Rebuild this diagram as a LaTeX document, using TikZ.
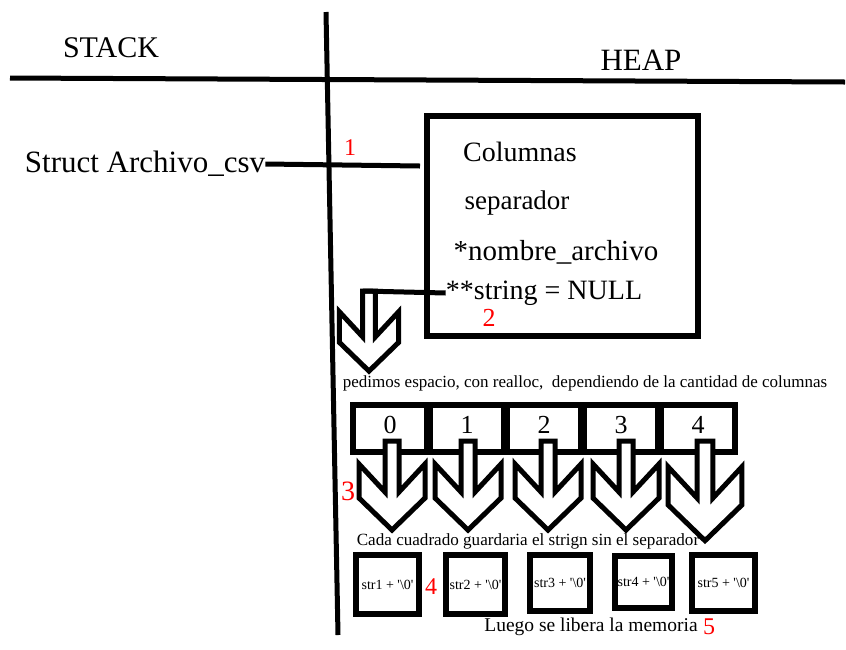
\documentclass[tikz,border=0pt]{standalone}
\usepackage{fontspec}
\setmainfont{Liberation Serif}
\newfontfamily\quotefont{Liberation Serif}
\usetikzlibrary{matrix}
\newcommand{\nul}{'\textbackslash 0'}
\tikzset{
  txt/.style={inner sep=0pt, font=\fontsize{#1}{#1}\selectfont},
  num/.style={txt=#1, text=red},
  wire/.style={line width=5pt},
  strbox/.style={draw, line width=6pt, inner sep=0pt, font=\fontsize{14}{14}\selectfont\quotefont},
  hollowarr/.pic={\draw[line width=5pt, fill=white] (-7,0) -- (7,0) -- (7,51) -- (33,23) -- (33,57) -- (0,89) -- (-33,57) -- (-33,23) -- (-7,51) -- cycle;}
}
\begin{document}
\begin{tikzpicture}[x=1pt, y=-1pt]
\useasboundingbox (0,0) rectangle (846,649);
\draw[wire] (10,78) -- (845,82);
\draw[wire] (326,12) -- (338,635);
\node[txt=30] (stack) at (111,48) {STACK};
\node[txt=31] (heap) at (641,60) {HEAP};

\node[txt=31] (csv) at (145,164) {Struct Archivo\_csv};
\node[draw, line width=6pt, minimum width=271pt, minimum height=220pt] (arch) at (562.5,226) {};
\coordinate (pin) at (420,166);
\draw[wire] (csv.east) -- (pin);
\node[num=24] (n1) at (350,148) {1};
\node[txt=28] (col) at (520,152) {Columnas};
\node[txt=27] (sep) at (517,203) {separador};
\node[txt=29] (nom) at (556,252) {*nombre\_archivo};
\node[txt=28] (str) at (544,293) {**string = NULL};
\node[num=26] (n2) at (489,318) {2};

\pic[scale=0.9] at (369,291) {hollowarr};
\coordinate (top) at (362.7,291);
\draw[wire] (str.west) -- (top);
\node[txt=17] (ped) at (585,383) {pedimos espacio, con realloc,~ dependiendo de la cantidad de columnas};

\matrix (m) [matrix of nodes, inner sep=0pt, column sep=-3pt,
  nodes={draw, line width=6pt, outer sep=0pt, minimum width=74pt, minimum height=47pt, txt=26, text depth=8pt}]
  at (544,428.5) {0 & 1 & 2 & 3 & 4 \\};

\pic at (392,441) {hollowarr};
\pic at (468,441) {hollowarr};
\pic at (548,441) {hollowarr};
\pic at (626,441) {hollowarr};
\pic[scale=1.12] at (705,441) {hollowarr};
\node[num=28] (n3) at (348,491) {3};
\node[txt=17.1] (cada) at (528,541) {Cada cuadrado guardaria el strign sin el separador};

\node[strbox, minimum width=63pt, minimum height=59pt] (s1) at (387.5,584.5) {str1 + \nul};
\node[strbox, minimum width=59pt, minimum height=59pt] (s2) at (475.5,584.5) {str2 + \nul};
\node[strbox, minimum width=60pt, minimum height=56pt] (s3) at (560,583) {str3 + \nul};
\node[strbox, minimum width=57pt, minimum height=52pt] (s4) at (643.5,582) {str4 + \nul};
\node[strbox, minimum width=63pt, minimum height=56pt] (s5) at (723.5,583) {str5 + \nul};
\node[num=24] (n4) at (431,587) {4};
\node[txt=19.5] (luego) at (591,627) {Luego se libera la memoria};
\node[num=24] (n5) at (709,627) {5};
\end{tikzpicture}
\end{document}
